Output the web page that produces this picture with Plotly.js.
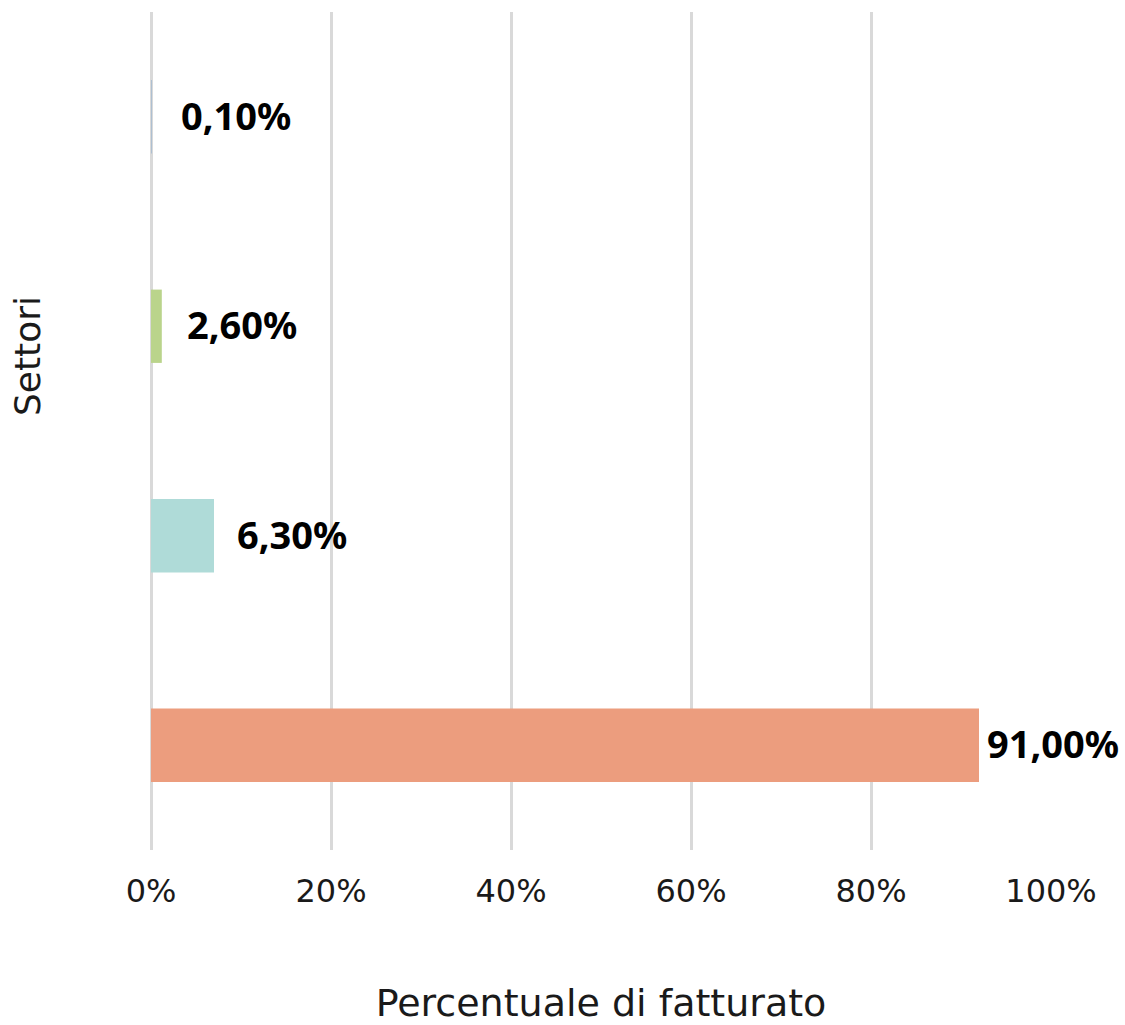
<!DOCTYPE html>
<html>
<head>
<meta charset="utf-8">
<script src="https://cdn.plot.ly/plotly-3.0.1.min.js"></script>
<style>
  html, body { margin: 0; padding: 0; background: #ffffff; }
  #chart { width: 1125px; height: 1025px; }
</style>
</head>
<body>
<div id="chart"></div>
<script>
// Data (top to bottom)
const categories = ["Settore A", "Settore B", "Settore C", "Settore D"];
const barValues = [0.1, 1.2, 7.0, 92.0];
const valueLabels = ["0,10%", "2,60%", "6,30%", "91,00%"];
const barColors = ["#a9bdd1", "#bad48b", "#afdbd8", "#ec9d7e"];
const tickValues = [0, 20, 40, 60, 80, 100];
const tickLabels = ["0%", "20%", "40%", "60%", "80%", "100%"];
const xTitle = "Percentuale di fatturato";
const yTitle = "Settori";

const labelShifts = [29, 25, 23, 8];

const trace = {
  type: "bar",
  orientation: "h",
  x: barValues,
  y: categories,
  marker: { color: barColors, line: { width: 0 } },
  width: 0.35,
  hoverinfo: "none"
};

const annotations = categories.map((c, i) => ({
  x: barValues[i],
  y: c,
  xref: "x",
  yref: "y",
  text: valueLabels[i],
  showarrow: false,
  xanchor: "left",
  yanchor: "middle",
  xshift: labelShifts[i] - 2,
  yshift: 2,
  font: { family: "Noto Sans", size: 38, color: "#000000", weight: 700 }
}));

annotations.push({
  xref: "paper",
  yref: "paper",
  x: -124 / 900,
  y: (850 - 356) / 838,
  xanchor: "center",
  yanchor: "middle",
  textangle: -90,
  showarrow: false,
  text: yTitle,
  font: { family: "DejaVu Sans", size: 36, color: "#1a1a1a" }
});

const layout = {
  width: 1125,
  height: 1025,
  paper_bgcolor: "#ffffff",
  plot_bgcolor: "#ffffff",
  margin: { l: 151, r: 74, t: 12, b: 175 },
  showlegend: false,
  xaxis: {
    range: [0, 100],
    tickvals: tickValues,
    ticktext: tickLabels,
    showgrid: true,
    gridcolor: "#d9d9d9",
    gridwidth: 3,
    zeroline: true,
    zerolinecolor: "#d9d9d9",
    zerolinewidth: 3,
    showline: false,
    ticks: "",
    ticklabelstandoff: 19,
    tickfont: { family: "DejaVu Sans", size: 32, color: "#1a1a1a" },
    title: { text: xTitle, font: { family: "DejaVu Sans", size: 38, color: "#1a1a1a" }, standoff: 81 },
    fixedrange: true
  },
  yaxis: {
    type: "category",
    categoryarray: categories,
    autorange: "reversed",
    showticklabels: false,
    showgrid: false,
    zeroline: false,
    showline: false,
    ticks: "",
    fixedrange: true
  },
  annotations: annotations
};

Plotly.newPlot("chart", [trace], layout, { displayModeBar: false, staticPlot: true });
</script>
</body>
</html>
